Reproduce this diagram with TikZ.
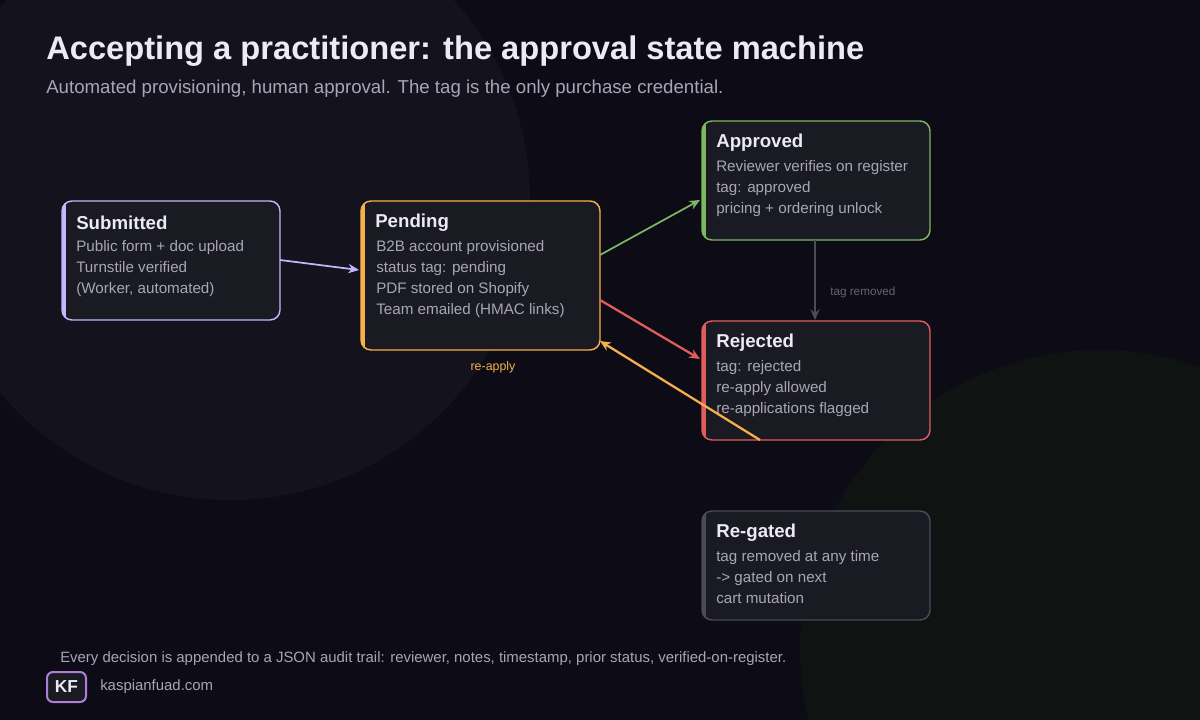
\documentclass[tikz,border=0pt]{standalone}
\usepackage{fontspec}
\setmainfont{Liberation Sans}
\usetikzlibrary{arrows.meta}
\definecolor{bg}{HTML}{0C0B16}
\definecolor{blob}{HTML}{13121D}
\definecolor{blobg}{HTML}{0F1311}
\definecolor{card}{HTML}{1A1A23}
\definecolor{ttl}{HTML}{ECEAF4}
\definecolor{body}{HTML}{A8A6B6}
\definecolor{cpur}{HTML}{C4B5FD}
\definecolor{cora}{HTML}{F5B04A}
\definecolor{cgrn}{HTML}{7CB860}
\definecolor{cred}{HTML}{E05D5D}
\definecolor{cgry}{HTML}{4A4A58}
\begin{document}
\begin{tikzpicture}[x=0.75pt,y=-0.75pt,
  card/.style={draw=#1,fill=card,rounded corners=7.5pt,line width=1.1pt},
  hd/.style={anchor=west,text=ttl,font=\fontsize{14}{16}\selectfont\bfseries,inner sep=0},
  bd/.style={anchor=north west,text=body,font=\fontsize{11.4}{15.75}\selectfont,align=left,inner sep=0},
  arr/.style={draw=#1,line width=1.5pt,-{Stealth[length=8pt,width=7pt]}}]
\fill[bg] (0,0) rectangle (1200,720);
\useasboundingbox (0,0) rectangle (1200,720);
\fill[blob] (230,200) circle[radius=300];
\fill[blobg] (1100,650) circle[radius=300];
\node[anchor=west,text=ttl,font=\fontsize{24.5}{28}\selectfont\bfseries,inner sep=0] (title) at (46,51) {Accepting a practitioner: the approval state machine};
\node[anchor=west,text=body,font=\fontsize{14}{16}\selectfont,inner sep=0] (sub) at (46,89) {Automated provisioning, human approval. The tag is the only purchase credential.};
\newcommand{\card}[7]{%
 \draw[card=#2] (#3,#4) rectangle (#5,#6);
 \begin{scope}\clip[rounded corners=7.5pt] (#3,#4) rectangle (#5,#6);
 \fill[#2] (#3,#4) rectangle ({#3+4},#6);\end{scope}
 \node[hd] (#1) at ({#3+14},{#4+22}) {#7};}
\card{sub1}{cpur}{62}{201}{280}{320}{Submitted}
\node[bd] at (76,240) {Public form + doc upload\\Turnstile verified\\(Worker, automated)};
\card{pen}{cora}{361}{201}{600}{350}{Pending}
\node[bd] at (376,240) {B2B account provisioned\\status tag: pending\\PDF stored on Shopify\\Team emailed (HMAC links)};
\card{app}{cgrn}{702}{121}{930}{240}{Approved}
\node[bd] at (716,160) {Reviewer verifies on register\\tag: approved\\pricing + ordering unlock};
\card{rej}{cred}{702}{321}{930}{440}{Rejected}
\node[bd] at (716,360) {tag: rejected\\re-apply allowed\\re-applications flagged};
\card{reg}{cgry}{702}{511}{930}{620}{Re-gated}
\node[bd] at (716,550) {tag removed at any time\\-> gated on next\\cart mutation};
\coordinate (s1) at (280,260); \coordinate (p1) at (359,270);
\draw[arr=cpur,line width=1.3pt] (s1) -- (p1);
\coordinate (p2) at (600,255); \coordinate (a2) at (700,200);
\draw[arr=cgrn,line width=1.3pt] (p2) -- (a2);
\coordinate (p3) at (600,300); \coordinate (r3) at (700,359);
\draw[arr=cred,line width=1.7pt] (p3) -- (r3);
\coordinate (r4) at (760,440); \coordinate (p4) at (600,341);
\draw[arr=cora,line width=1.7pt] (r4) -- (p4);
\node[text=cora,font=\fontsize{9.3}{10}\selectfont,inner sep=0] (lre) at (493,367) {re-apply};
\coordinate (a5) at (815,240); \coordinate (r5) at (815,320);
\draw[arr=cgry,line width=2pt] (a5) -- (r5);
\node[text=cgry!85!white,font=\fontsize{8.8}{10}\selectfont,anchor=west,inner sep=0] (ltr) at (830,292) {tag removed};
\node[anchor=west,text=body,font=\fontsize{11.2}{12}\selectfont,inner sep=0] (foot) at (60,659) {Every decision is appended to a JSON audit trail: reviewer, notes, timestamp, prior status, verified-on-register.};
\draw[draw=cpur!70!violet,line width=1.5pt,fill=card,rounded corners=4.5pt] (47,672) rectangle (86,702);
\node[text=ttl,font=\fontsize{13}{15}\selectfont\bfseries,inner sep=0] (kf) at (66.5,687) {KF};
\node[anchor=west,text=body,font=\fontsize{11.2}{13}\selectfont,inner sep=0] (dom) at (100,687) {kaspianfuad.com};
\end{tikzpicture}
\end{document}
